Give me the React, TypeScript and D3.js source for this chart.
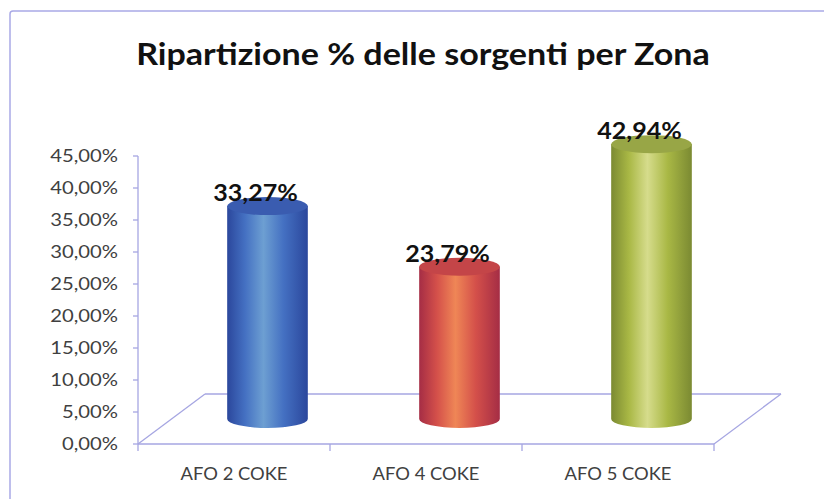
import React, { useEffect } from "react";
import * as d3 from "d3";

const categories = ["AFO 2 COKE", "AFO 4 COKE", "AFO 5 COKE"];
const values = [33.27, 23.79, 42.94];
const yTicks = [0, 5, 10, 15, 20, 25, 30, 35, 40, 45];
const title = "Ripartizione % delle sorgenti per Zona";

// gradient stops per bar: edge, mid, highlight, top
const palette = [
  { edge: "#2b479c", mid: "#4470c2", light: "#6d9fd2", top: "#3a5cb0" },
  { edge: "#a52d45", mid: "#d4504a", light: "#ef8656", top: "#c44548" },
  { edge: "#7b8a32", mid: "#a9b845", light: "#d6dc8c", top: "#98a646" },
];

const width = 824;
const height = 499;
const depthX = 67;
const depthY = -50;

const fmt = (v: number) => v.toFixed(2).replace(".", ",") + "%";

// the source image is slightly stretched horizontally, so text is widened too
const at = (px: number, py: number, sx: number) => `translate(${px},${py}) scale(${sx},1)`;

export default function App() {
  useEffect(() => {
    document.body.style.margin = "0";
    document.body.style.overflow = "hidden";
  }, []);

  const x = d3.scaleBand<string>().domain(categories).range([138, 714]).padding(0);
  const y = d3.scaleLinear().domain([0, 45]).range([444, 156]);
  const axisColor = "#a6a6e2";
  const textColor = "#404040";
  const rx = x.bandwidth() * 0.21;
  const ry = 9;
  const x0 = x.range()[0];
  const x1 = x.range()[1];
  const base = y(0);

  return (
    <svg
      width={width}
      height={height}
      style={{ display: "block", background: "#fff" }}
      fontFamily="Lato, 'Open Sans', sans-serif"
    >
      <defs>
        {palette.map((p, i) => (
          <linearGradient key={i} id={`cyl${i}`} x1="0" x2="1" y1="0" y2="0">
            <stop offset="0%" stopColor={p.edge} />
            <stop offset="22%" stopColor={p.mid} />
            <stop offset="45%" stopColor={p.light} />
            <stop offset="70%" stopColor={p.mid} />
            <stop offset="100%" stopColor={p.edge} />
          </linearGradient>
        ))}
      </defs>

      {/* chart area frame, cut off at right and bottom */}
      <path d={`M10,${height} L10,14 Q10,11 13,11 L${width},11`} fill="none" stroke="#a9a9e6" strokeWidth={1.5} />

      <text transform={at(423, 65, 1.135)} textAnchor="middle" fontSize={30} fontWeight="bold" fill="#111">
        {title}
      </text>

      {/* floor */}
      <g stroke={axisColor} strokeWidth={1.3} fill="none">
        <line x1={x0} y1={base} x2={x0 + depthX} y2={base + depthY} />
        <line x1={x0 + depthX} y1={base + depthY} x2={x1 + depthX} y2={base + depthY} />
        <line x1={x1} y1={base} x2={x1 + depthX} y2={base + depthY} />
        <line x1={x0} y1={base} x2={x1} y2={base} />
        <line x1={x0} y1={y(45)} x2={x0} y2={base} />
        {yTicks.map((t) => (
          <line key={t} x1={x0 - 5} x2={x0} y1={y(t)} y2={y(t)} />
        ))}
        {[...categories.map((c) => x(c) as number), x1].map((px, i) => (
          <line key={i} x1={px} x2={px} y1={base} y2={base + 7} />
        ))}
      </g>

      {yTicks.map((t) => (
        <text key={t} transform={at(118, y(t), 1.19)} dy="0.36em" textAnchor="end" fontSize={17} fill={textColor}>
          {fmt(t)}
        </text>
      ))}

      {categories.map((c) => (
        <text
          key={c}
          transform={at((x(c) as number) + x.bandwidth() / 2, 480, 1.08)}
          textAnchor="middle"
          fontSize={17}
          fill={textColor}
        >
          {c}
        </text>
      ))}

      {categories.map((c, i) => {
        const cx = (x(c) as number) + x.bandwidth() / 2 + depthX / 2;
        const bottom = base + depthY / 2;
        const top = y(values[i]) + depthY / 2;
        const body = `M${cx - rx},${top} L${cx - rx},${bottom} A${rx},${ry} 0 0 0 ${cx + rx},${bottom} L${cx + rx},${top} Z`;
        return (
          <g key={c}>
            <path d={body} fill={`url(#cyl${i})`} />
            <ellipse cx={cx} cy={top} rx={rx} ry={ry} fill={palette[i].top} />
            <text
              transform={at(cx - 12, top - 5, 1.09)}
              textAnchor="middle"
              fontSize={23}
              fontWeight="bold"
              fill="#111"
            >
              {fmt(values[i])}
            </text>
          </g>
        );
      })}
    </svg>
  );
}
